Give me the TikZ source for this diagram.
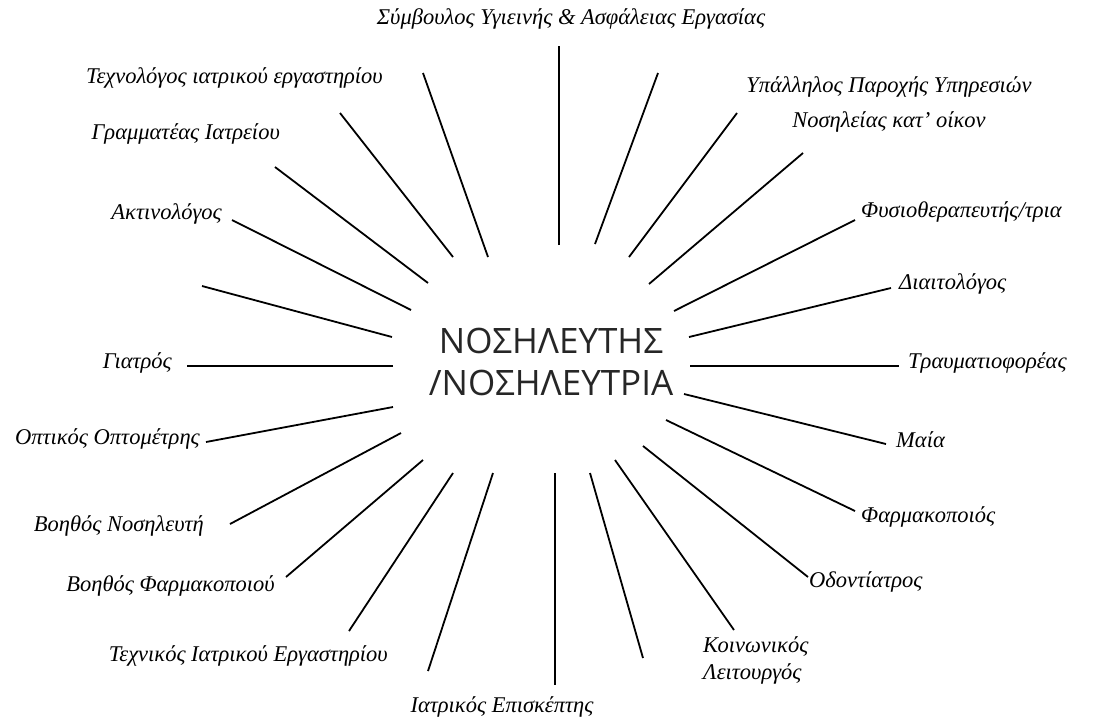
\documentclass[tikz,border=0pt]{standalone}
\usepackage{fontspec}
\setmainfont{Liberation Serif}
\newfontfamily\centerfont{Open Sans}
\begin{document}
\begin{tikzpicture}[x=1pt,y=-1pt,
  spoke/.style={line width=1.8pt},
  lbl/.style={font=\fontsize{22.5}{35}\selectfont\itshape, inner sep=0pt},
  ctr/.style={font=\centerfont\fontsize{35}{42}\selectfont, inner sep=0pt, text=black!85}]
\useasboundingbox (0,0) rectangle (1102,724);
% centre
\node[ctr, anchor=base] (c1) at (551,353) {ΝΟΣΗΛΕΥΤΗΣ};
\node[ctr, anchor=base] (c2) at (551,395) {/ΝΟΣΗΛΕΥΤΡΙΑ};
% labels
\node[lbl, anchor=mid] (l1) at (571,22) {Σύμβουλος Υγιεινής \& Ασφάλειας Εργασίας};
\node[lbl, anchor=center, align=center] (l2) at (889,104) {Υπάλληλος Παροχής Υπηρεσιών\\Νοσηλείας κατ' οίκον};
\node[lbl, anchor=mid west] (l3) at (861,215) {Φυσιοθεραπευτής/τρια};
\node[lbl, anchor=mid west] (l4) at (899,287) {Διαιτολόγος};
\node[lbl, anchor=mid west] (l5) at (908,366) {Τραυματιοφορέας};
\node[lbl, anchor=mid west] (l6) at (896,445) {Μαία};
\node[lbl, anchor=mid west] (l7) at (861,520) {Φαρμακοποιός};
\node[lbl, anchor=mid west] (l8) at (809,585) {Οδοντίατρος};
\node[lbl, font=\fontsize{22.5}{27}\selectfont\itshape, anchor=west, align=left] (l9) at (703,660) {Κοινωνικός\\Λειτουργός};
\node[lbl, anchor=mid] (l10) at (502,710) {Ιατρικός Επισκέπτης};
\node[lbl, anchor=mid east] (l11) at (388,659) {Τεχνικός Ιατρικού Εργαστηρίου};
\node[lbl, anchor=mid east] (l12) at (275,589) {Βοηθός Φαρμακοποιού};
\node[lbl, anchor=mid east] (l13) at (204,529) {Βοηθός Νοσηλευτή};
\node[lbl, anchor=mid east] (l14) at (200,442) {Οπτικός Οπτομέτρης};
\node[lbl, anchor=mid east] (l15) at (172,366) {Γιατρός};
\node[lbl, anchor=mid east] (l16) at (222,217) {Ακτινολόγος};
\node[lbl, anchor=mid east] (l17) at (280,137) {Γραμματέας Ιατρείου};
\node[lbl, anchor=mid east] (l18) at (383,81) {Τεχνολόγος ιατρικού εργαστηρίου};
% spoke end points (inner i, outer o)
\foreach \n/\ix/\iy/\ox/\oy in {
  1/559/245/559/46, 2/595/244/658/73, 3/629/257/737/113, 4/649/284/803/153,
  5/674/311/855/220, 6/689/337/891/288, 7/690/366/899/366, 8/684/394/886/444,
  9/666/420/855/511, 10/643/446/808/577, 11/615/460/734/630, 12/590/473/643/658,
  13/555/473/555/685, 14/493/473/428/671, 15/453/473/349/631, 16/423/460/286/577,
  17/401/433/230/524, 18/393/407/206/442, 19/393/366/187/366, 20/392/337/202/286,
  21/411/310/232/220, 22/428/283/275/167, 23/453/257/340/113, 24/488/257/423/73}{
  \coordinate (i\n) at (\ix,\iy);
  \coordinate (o\n) at (\ox,\oy);
  \draw[spoke] (i\n) -- (o\n);
}
\end{tikzpicture}
\end{document}
